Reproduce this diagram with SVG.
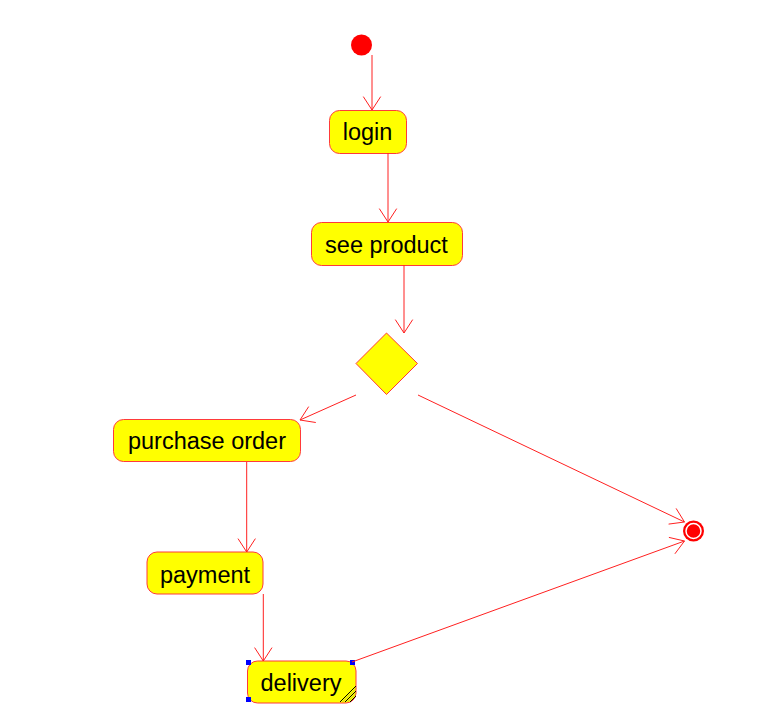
<svg xmlns="http://www.w3.org/2000/svg" width="771" height="704" viewBox="0 0 771 704">
<style>
.act{fill:#ffff00;stroke:#ff3a3a;stroke-width:1}
.lbl{font-family:"Liberation Sans",Arial,sans-serif;font-size:23.5px;fill:#000;text-anchor:middle}
.edge{stroke:#ff2020;stroke-width:1;fill:none}
.hd{fill:#0000ff}
</style>
<rect width="771" height="704" fill="#fff"/>
<g id="initial"><circle cx="361.5" cy="45" r="10.5" fill="#ff0000"/></g>
<g id="login"><rect class="act" x="329.5" y="110.5" width="77" height="43" rx="10"/><text class="lbl" x="367.5" y="140">login</text></g>
<g id="see_product"><rect class="act" x="311.5" y="222.5" width="151" height="43" rx="10"/><text class="lbl" x="386.5" y="253">see product</text></g>
<g id="decision"><polygon class="act" points="386.5,333 417.5,363.5 386.5,394.5 356,363.5"/></g>
<g id="purchase_order"><rect class="act" x="113.5" y="419.5" width="187" height="42" rx="10"/><text class="lbl" x="207" y="449">purchase order</text></g>
<g id="payment"><rect class="act" x="147" y="552" width="116" height="42" rx="10"/><text class="lbl" x="205" y="583">payment</text></g>
<g id="delivery"><rect class="act" x="247.5" y="661" width="108.5" height="42" rx="10"/><text class="lbl" x="301" y="691">delivery</text>
<path d="M340,702 L356,686 M345,702 L356,691 M350,702 L356,696" stroke="#000" stroke-width="1"/>
<path d="M342.5,702 L356,688.5 M347.5,702 L356,693.5" stroke="#c8c820" stroke-width="1"/>
<rect class="hd" x="246" y="660" width="5" height="5"/><rect class="hd" x="350" y="660" width="5" height="5"/><rect class="hd" x="246" y="697" width="5" height="5"/></g>
<g id="final"><circle cx="693.5" cy="531" r="10.5" fill="#ff0000"/><circle cx="693.5" cy="531" r="7.5" fill="none" stroke="#fff" stroke-width="1.5"/></g>
<g id="connectors" class="edge">
<path d="M372,55 L372,110 M363.3,96.6 L372,110 L380.7,96.6"/>
<path d="M388,153 L388,222 M379.3,208.6 L388,222 L396.7,208.6"/>
<path d="M404,265 L404,333 M395.3,319.6 L404,333 L412.7,319.6"/>
<path d="M356,395 L300,420 M308.7,406.6 L300,420 L315.8,422.5"/>
<path d="M246.7,462 L246.7,552 M238,538.6 L246.7,552 L255.4,538.6"/>
<path d="M263.3,594 L263.3,661 M254.6,647.6 L263.3,661 L272,647.6"/>
<path d="M418,395 L684.5,522 M676.1,508.4 L684.5,522 L668.6,524.1"/>
<path d="M352,662 L684.5,541 M668.9,537.4 L684.5,541 L674.9,553.8"/>
</g>
</svg>
